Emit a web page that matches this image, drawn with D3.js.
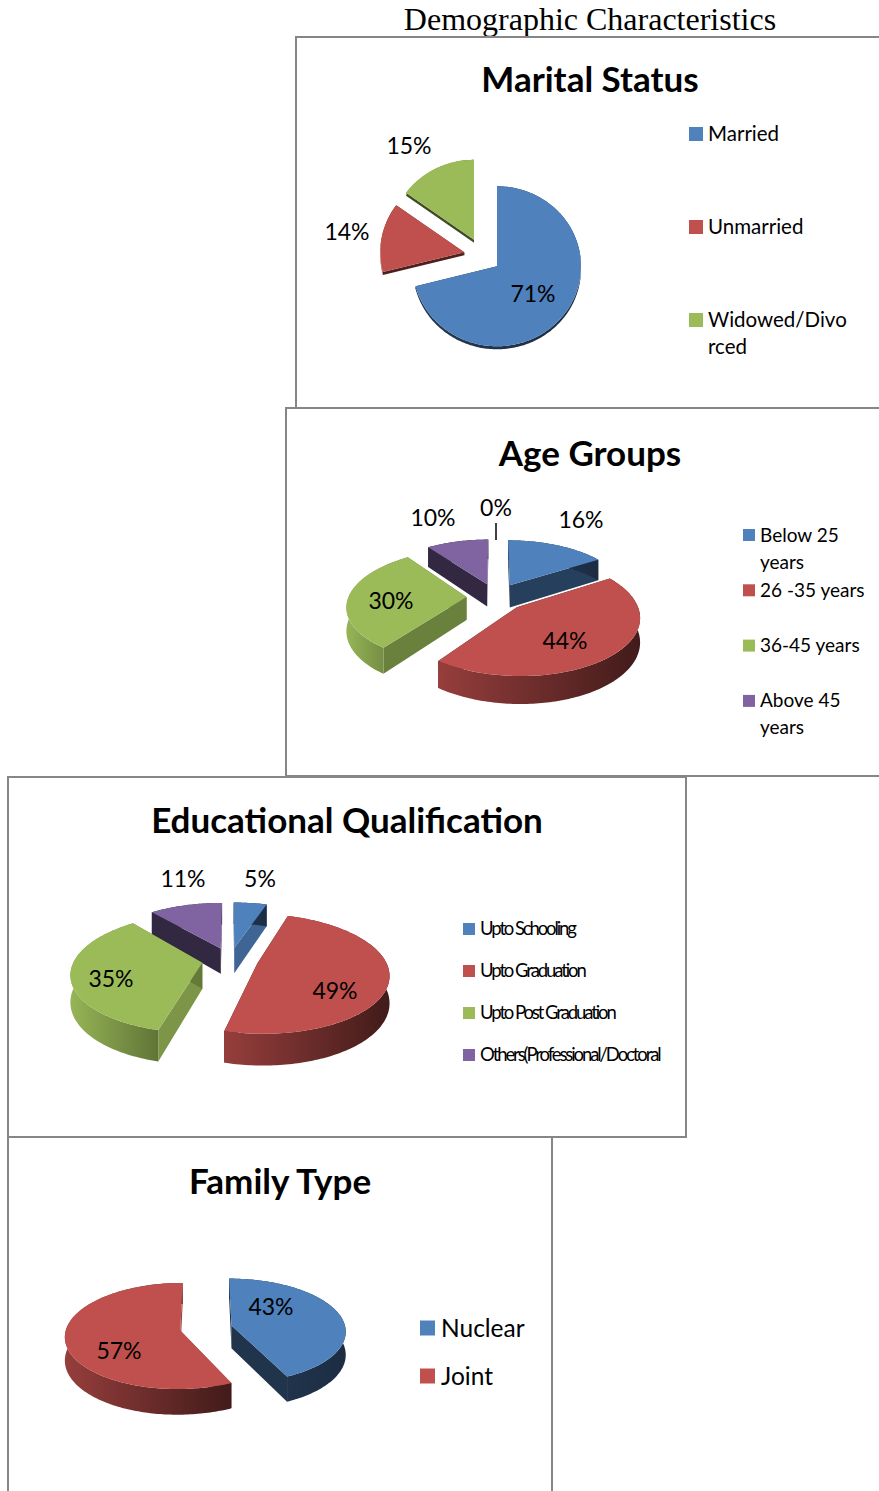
<!DOCTYPE html>
<html>
<head>
<meta charset="utf-8">
<script src="https://cdn.jsdelivr.net/npm/d3@7"></script>
<style>
  html, body { margin: 0; padding: 0; background: #fff; }
  svg { display: block; }
  text { font-family: Lato, "Noto Sans", sans-serif; fill: #000; }
  .pie { filter: blur(0.5px); }
</style>
</head>
<body>
<div id="chart"></div>
<script>
// values
const maritalCats = ["Married", "Unmarried", "Widowed/Divo\nrced"];
const maritalVals = [71, 14, 15];
const ageCats = ["Below 25\nyears", "26 -35 years", "36-45 years", "Above 45\nyears"];
const ageVals = [16, 44, 30, 10, 0];
const eduCats = ["Upto Schooling", "Upto Graduation", "Upto Post Graduation", "Others(Professional/Doctoral"];
const eduVals = [5, 49, 35, 11];
const familyCats = ["Nuclear", "Joint"];
const familyVals = [43, 57];

const colors = ["#4f81bd", "#c0504d", "#9bbb59", "#8064a2", "#4bacc6"];
// how dark the round wall gets, left end and right end, per colour
const wallDark = [[0.55, 0.65], [0.22, 0.66], [0.03, 0.38], [0.6, 0.6]];

const W = 879, H = 1491;

const panels = [
  { title: "Marital Status", cats: maritalCats, vals: maritalVals,
    frame: [296, 37, 700, 371], titleX: 590, titleY: 92, titleSize: 35,
    cx: 482.4, cy: 255.5, rx: 84, ry: 80, persp: 0, depth: 3, explode: 0.22,
    labels: [[533, 293], [347, 231], [409, 145]], labelSize: 23,
    legend: { x: 689, tx: 708, top: 133, step: 93, box: 14, size: 20.5, lh: 27, ls: 0 } },
  { title: "Age Groups", cats: ageCats, vals: ageVals,
    frame: [286, 408, 700, 368], titleX: 590, titleY: 466, titleSize: 35,
    cx: 496, cy: 597, rx: 118, ry: 55, persp: 0.15, depth: 23, explode: 0.25,
    labels: [[581, 519], [565, 640], [391, 600], [433, 517], [496, 507]], labelSize: 23,
    leader: [496, 523, 540],
    legend: { x: 743, tx: 760, top: 534, step: 55.3, box: 12, size: 19, lh: 27, ls: 0 } },
  { title: "Educational Qualification", cats: eduCats, vals: eduVals,
    frame: [8, 777, 678, 360], titleX: 347, titleY: 833, titleSize: 35,
    cx: 230, cy: 960, rx: 128, ry: 57, persp: 0.17, depth: 26, explode: 0.22,
    labels: [[260, 878], [335, 990], [111, 978], [183, 878]], labelSize: 23,
    legend: { x: 463, tx: 480, top: 928, step: 42, box: 12, size: 18.5, lh: 24, ls: -2.1 } },
  { title: "Family Type", cats: familyCats, vals: familyVals,
    frame: [8, 1137, 544, 400], titleX: 280, titleY: 1194, titleSize: 35,
    cx: 206, cy: 1328, rx: 114, ry: 52, persp: 0.1, depth: 23, explode: 0.23,
    labels: [[271, 1306], [119, 1350]], labelSize: 23,
    legend: { x: 420, tx: 441, top: 1327, step: 48, box: 15, size: 24.5, lh: 27, ls: 0 } }
];

const svg = d3.select("#chart").append("svg").attr("width", W).attr("height", H);
const defs = svg.append("defs");
const line = d3.line();
let gradId = 0;

svg.append("text").text("Demographic Characteristics")
  .attr("x", 590).attr("y", 30).attr("text-anchor", "middle")
  .style("font-family", '"Liberation Serif", serif').style("font-size", "32px");

// plane point -> screen, near side comes out bigger
function project(p, u, v, z) {
  const s = 1 / (1 + p.persp * v);
  return [p.cx + p.rx * u * s, p.cy - p.ry * v * s + p.depth * z * s];
}

function drawSlice(g, p, d) {
  if (d.value === 0) return;
  const col = colors[d.index];
  const mid = (d.startAngle + d.endAngle) / 2;
  const eu = p.explode * Math.sin(mid), ev = p.explode * Math.cos(mid);
  const n = Math.ceil((d.endAngle - d.startAngle) / 0.02);
  const angles = d3.range(n + 1).map(i => d.startAngle + (d.endAngle - d.startAngle) * i / n);
  const rim = z => angles.map(a => project(p, eu + Math.sin(a), ev + Math.cos(a), z));
  const apex = z => project(p, eu, ev, z);

  // the two cut walls, shade depends on where they face
  [[d.startAngle, -Math.PI / 2], [d.endAngle, Math.PI / 2]].forEach(([a, turn]) => {
    const nx = Math.sin(a + turn);
    const dark = Math.max(0.2, Math.min(0.6, 0.9 - 0.72 * nx));
    const u = eu + Math.sin(a), v = ev + Math.cos(a);
    g.append("path")
      .attr("d", line([apex(0), project(p, u, v, 0), project(p, u, v, 1), apex(1)]) + "Z")
      .attr("fill", d3.interpolateRgb(col, "#000")(dark));
  });

  // round wall
  const top = rim(0), bottom = rim(1);
  const xs = d3.extent(top, q => q[0]);
  const id = "wall" + (gradId++);
  const grad = defs.append("linearGradient").attr("id", id)
    .attr("gradientUnits", "userSpaceOnUse")
    .attr("x1", xs[0]).attr("x2", xs[1]).attr("y1", 0).attr("y2", 0);
  wallDark[d.index].forEach((k, i) => {
    grad.append("stop").attr("offset", i).attr("stop-color", d3.interpolateRgb(col, "#000")(k));
  });
  g.append("path").attr("d", line(top.concat(bottom.reverse())) + "Z").attr("fill", "url(#" + id + ")");

  // top face
  g.append("path").attr("d", line([apex(0)].concat(top)) + "Z").attr("fill", col);
}

panels.forEach(p => {
  const g = svg.append("g");
  const f = p.frame;
  g.append("rect").attr("x", f[0]).attr("y", f[1]).attr("width", f[2]).attr("height", f[3])
    .attr("fill", "#fff").attr("stroke", "#868686").attr("stroke-width", 2);

  g.append("text").text(p.title)
    .attr("x", p.titleX).attr("y", p.titleY).attr("text-anchor", "middle")
    .style("font-weight", "700").style("font-size", p.titleSize + "px");

  const arcs = d3.pie().sort(null).value(d => d)(p.vals);
  // back slices first
  const order = arcs.slice().sort((a, b) =>
    Math.cos((b.startAngle + b.endAngle) / 2) - Math.cos((a.startAngle + a.endAngle) / 2));
  const pie = g.append("g").attr("class", "pie");
  order.forEach(d => drawSlice(pie, p, d));

  arcs.forEach((d, i) => {
    g.append("text").text(d.value + "%")
      .attr("x", p.labels[i][0]).attr("y", p.labels[i][1])
      .attr("text-anchor", "middle").attr("dominant-baseline", "central")
      .style("font-size", p.labelSize + "px");
  });
  if (p.leader) {
    g.append("line").attr("x1", p.leader[0]).attr("x2", p.leader[0])
      .attr("y1", p.leader[1]).attr("y2", p.leader[2])
      .attr("stroke", "#000").attr("stroke-width", 1.5);
  }

  const l = p.legend;
  const ly = d3.scalePoint().domain(p.cats)
    .range([l.top, l.top + l.step * (p.cats.length - 1)]);
  p.cats.forEach((c, i) => {
    g.append("rect").attr("x", l.x).attr("y", ly(c) - l.box / 2 + 1)
      .attr("width", l.box).attr("height", l.box).attr("fill", colors[i]);
    c.split("\n").forEach((t, j) => {
      g.append("text").text(t)
        .attr("x", l.tx).attr("y", ly(c) + j * l.lh)
        .attr("dominant-baseline", "central")
        .style("letter-spacing", l.ls + "px")
        .style("font-size", l.size + "px");
    });
  });
});
</script>
</body>
</html>
